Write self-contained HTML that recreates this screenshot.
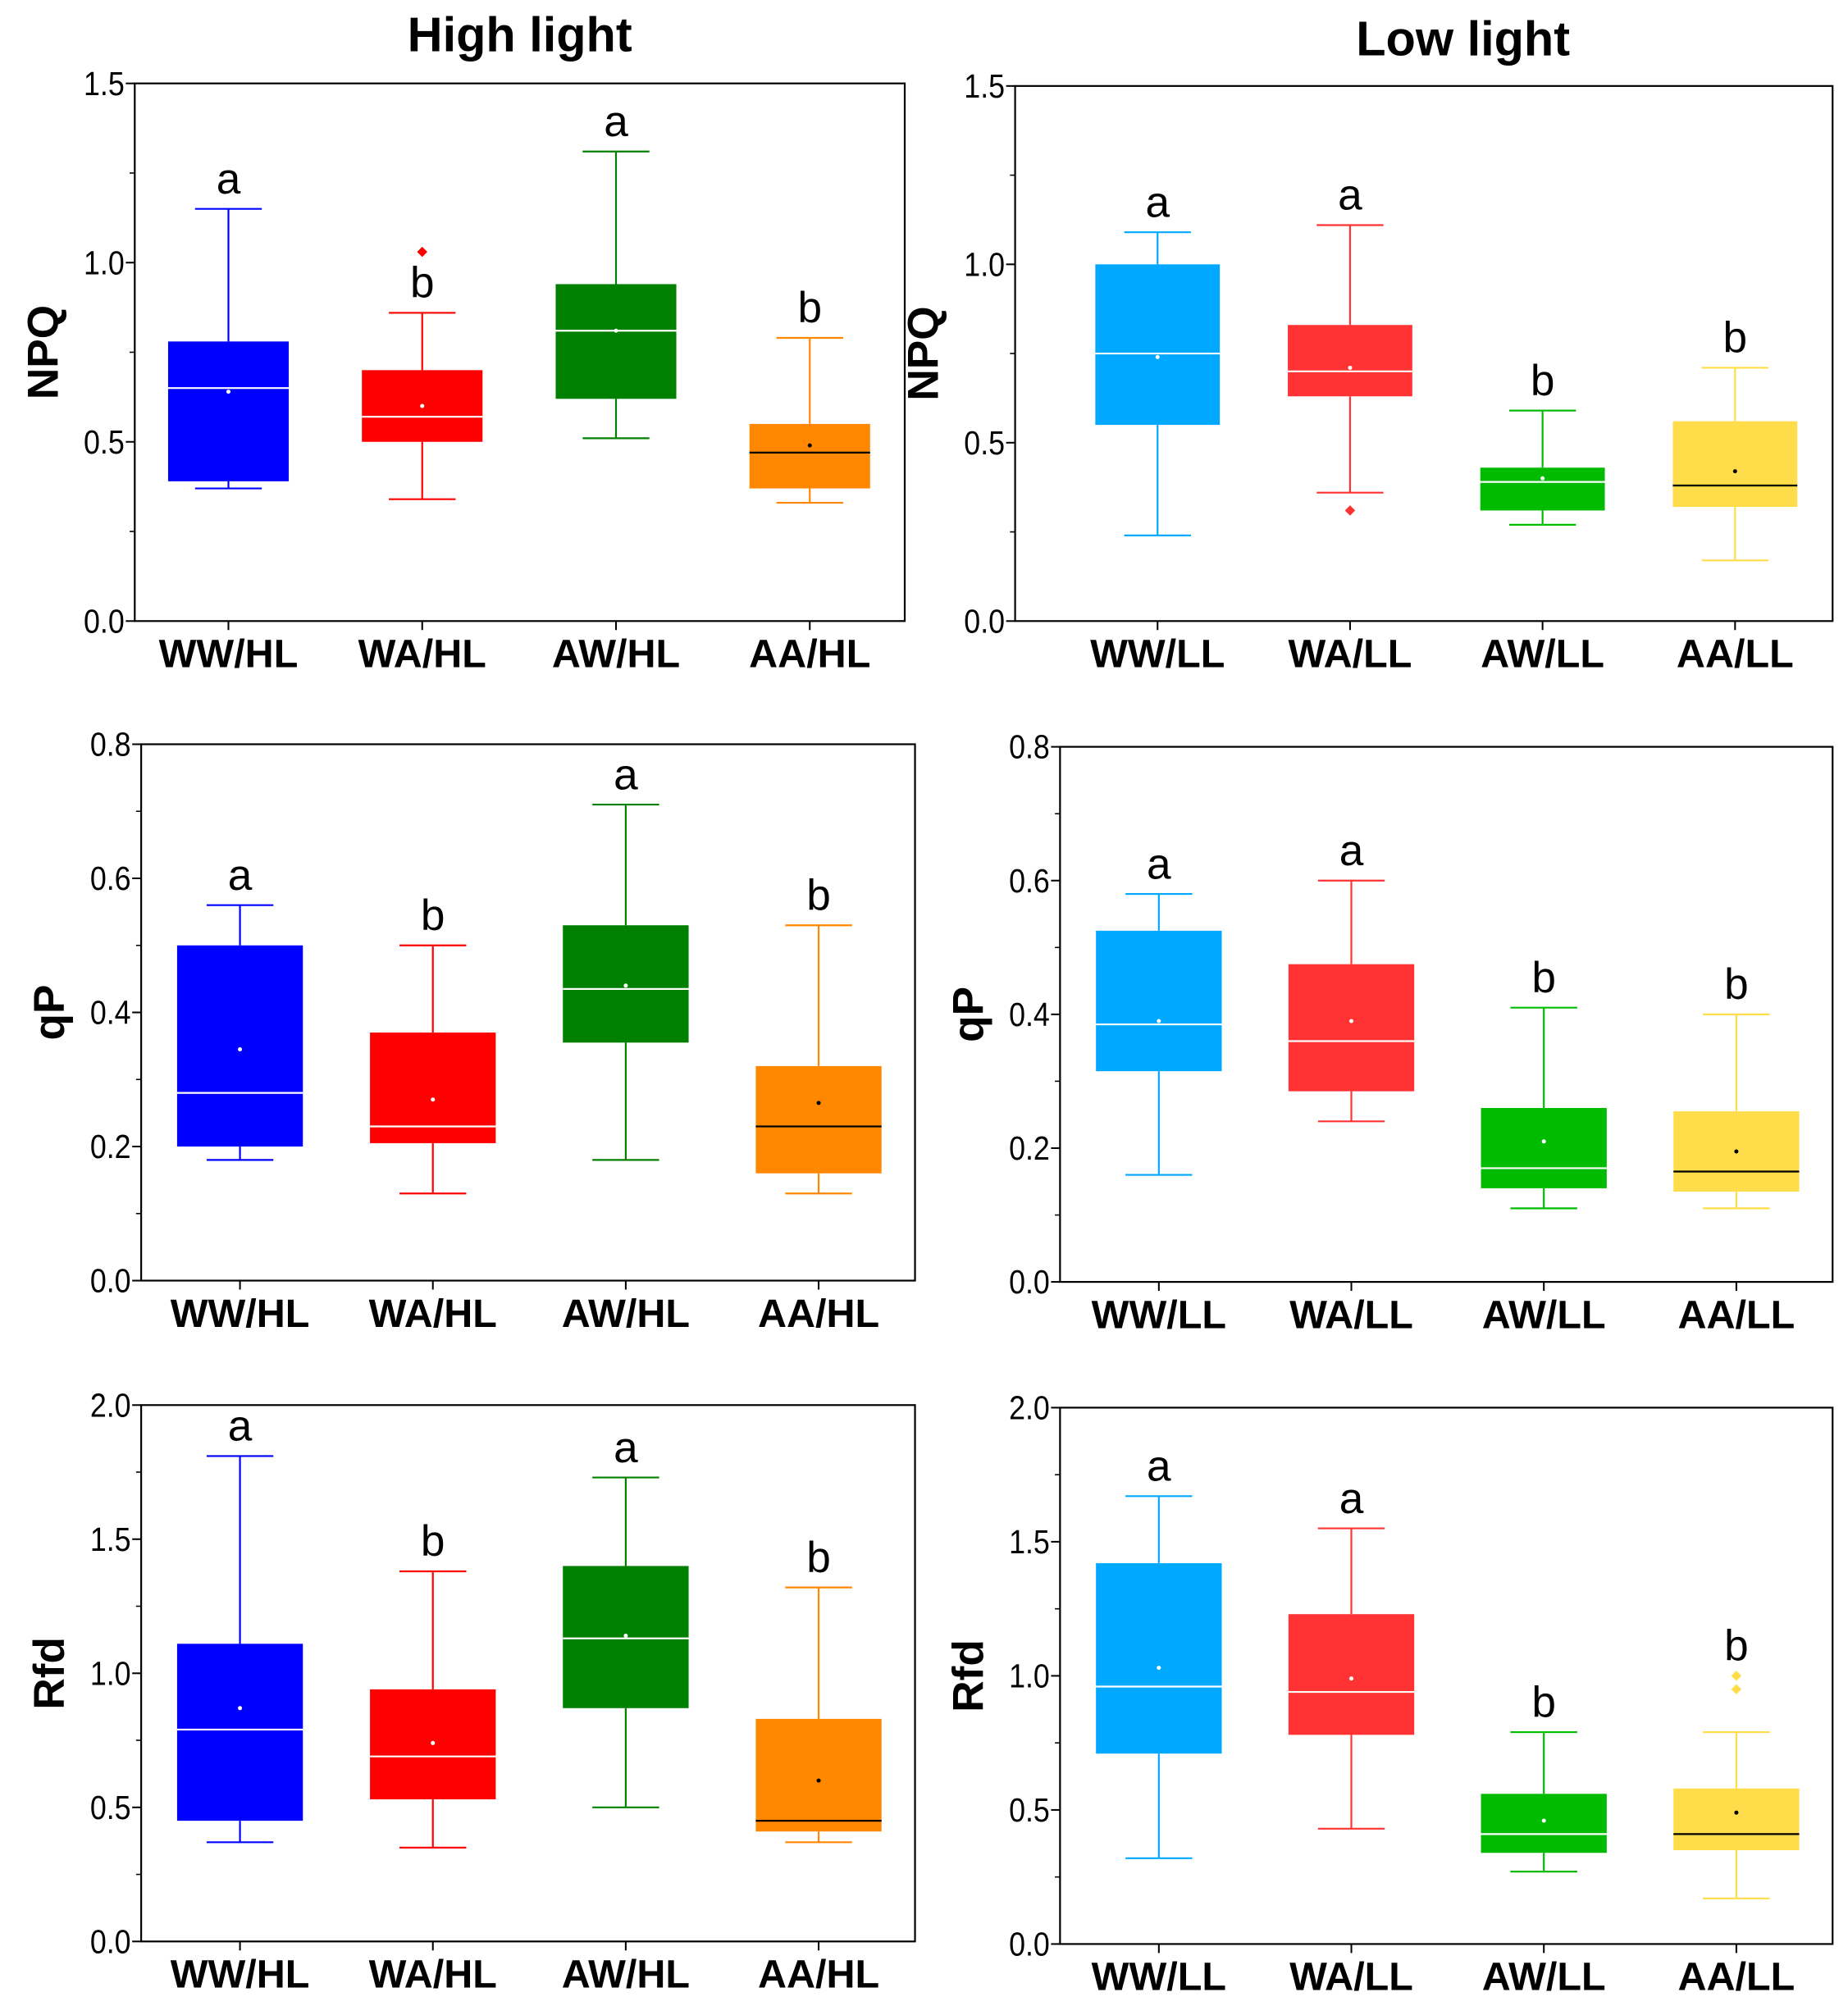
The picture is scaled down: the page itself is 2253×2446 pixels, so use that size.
<!DOCTYPE html>
<html><head><meta charset="utf-8"><style>
html,body{margin:0;padding:0;background:#fff;}
svg{display:block;}
text{font-family:"Liberation Sans",sans-serif;}
</style></head><body>
<svg id="fig" width="2253" height="2446" viewBox="0 0 1440 1563.3" preserveAspectRatio="none" xmlns="http://www.w3.org/2000/svg">
<text x="405" y="40" text-anchor="middle" font-size="38" font-weight="bold">High light</text>
<text x="1140" y="43" text-anchor="middle" font-size="38" font-weight="bold">Low light</text>
</svg>
<script>
// ---- data ----
const catsHL = ["WW/HL","WA/HL","AW/HL","AA/HL"];
const catsLL = ["WW/LL","WA/LL","AW/LL","AA/LL"];
// [whiskerLow, q1, median, q3, whiskerHigh]
const npqHL = [[0.37,0.39,0.65,0.78,1.15],[0.34,0.50,0.57,0.70,0.86],[0.51,0.62,0.81,0.94,1.31],[0.33,0.37,0.47,0.55,0.79]];
const npqHLMean = [0.64,0.60,0.81,0.49];
const npqHLOut = [[],[1.03],[],[]];
const npqHLLetters = ["a","b","a","b"];
const npqLL = [[0.24,0.55,0.75,1.00,1.09],[0.36,0.63,0.70,0.83,1.11],[0.27,0.31,0.39,0.43,0.59],[0.17,0.32,0.38,0.56,0.71]];
const npqLLMean = [0.74,0.71,0.40,0.42];
const npqLLOut = [[],[0.31],[],[]];
const npqLLLetters = ["a","a","b","b"];
const qpHL = [[0.18,0.20,0.28,0.50,0.56],[0.13,0.205,0.23,0.37,0.50],[0.18,0.355,0.435,0.53,0.71],[0.13,0.16,0.23,0.32,0.53]];
const qpHLMean = [0.345,0.27,0.44,0.265];
const qpHLLetters = ["a","b","a","b"];
const qpLL = [[0.16,0.315,0.385,0.525,0.58],[0.24,0.285,0.36,0.475,0.60],[0.11,0.14,0.17,0.26,0.41],[0.11,0.135,0.165,0.255,0.40]];
const qpLLMean = [0.39,0.39,0.21,0.195];
const qpLLLetters = ["a","a","b","b"];
const rfdHL = [[0.37,0.45,0.79,1.11,1.81],[0.35,0.53,0.69,0.94,1.38],[0.50,0.87,1.13,1.40,1.73],[0.37,0.41,0.45,0.83,1.32]];
const rfdHLMean = [0.87,0.74,1.14,0.60];
const rfdHLLetters = ["a","b","a","b"];
const rfdLL = [[0.32,0.71,0.96,1.42,1.67],[0.43,0.78,0.94,1.23,1.55],[0.27,0.34,0.41,0.56,0.79],[0.17,0.35,0.41,0.58,0.79]];
const rfdLLMean = [1.03,0.99,0.46,0.49];
const rfdLLOut = [[],[],[],[1.0,0.95]];
const rfdLLLetters = ["a","a","b","b"];
const npqTicks = [0,0.5,1.0,1.5];
const qpTicks = [0,0.2,0.4,0.6,0.8];
const rfdTicks = [0,0.5,1.0,1.5,2.0];
const colorsHL = ["#0000ff","#ff0000","#008000","#ff8800"];
const colorsLL = ["#00a8ff","#ff3333","#00bb00","#ffdd4a"];
const medColHL = ["#fff","#fff","#fff","#000"];
const medColLL = ["#fff","#fff","#fff","#000"];

const NS="http://www.w3.org/2000/svg";
const svg=document.getElementById('fig');
function mk(tag,attrs,parent){const e=document.createElementNS(NS,tag);for(const k in attrs)e.setAttribute(k,attrs[k]);(parent||svg).appendChild(e);return e;}

function panel(o){
  const g=mk('g',{});
  
  
  const ymax=o.ticks[o.ticks.length-1];
  const Y=v=>o.y1-(v/ymax)*(o.y1-o.y0);
  const X=i=>o.cx0+i*o.step;
  const minorStep=(o.ticks[1]-o.ticks[0])/2;
  for(let v=minorStep;v<ymax;v+=minorStep*2){
    mk('line',{x1:o.x0-4,x2:o.x0,y1:Y(v),y2:Y(v),stroke:'#000','stroke-width':1},g);
  }
  o.ticks.forEach(t=>{
    mk('line',{x1:o.x0-7,x2:o.x0,y1:Y(t),y2:Y(t),stroke:'#000','stroke-width':1.3},g);
    const tx=mk('text',{x:o.x0-8,y:Y(t)+9,'text-anchor':'end','font-size':26,transform:`translate(${(o.x0-8)*0.12},0) scale(0.88,1)`},g);
    tx.textContent=t.toFixed(1);
    
    
  });
  const yl=mk('text',{x:0,y:0,'font-size':34,'font-weight':'bold','text-anchor':'middle',transform:`translate(${o.x0-60},${(o.y0+o.y1)/2}) rotate(-90)`},g);
  yl.textContent=o.ylabel;
  
  
  o.cats.forEach((c,i)=>{
    const d=o.data[i],cx=X(i),hw=o.bw/2,cap=26;
    const bg=mk('g',{},g);
    
    
    const col=o.colors[i];
    mk('line',{x1:cx,x2:cx,y1:Y(d[0]),y2:Y(d[1]),stroke:col,'stroke-width':1.4},bg);
    mk('line',{x1:cx,x2:cx,y1:Y(d[3]),y2:Y(d[4]),stroke:col,'stroke-width':1.4},bg);
    mk('line',{x1:cx-cap,x2:cx+cap,y1:Y(d[0]),y2:Y(d[0]),stroke:col,'stroke-width':1.4},bg);
    mk('line',{x1:cx-cap,x2:cx+cap,y1:Y(d[4]),y2:Y(d[4]),stroke:col,'stroke-width':1.4},bg);
    mk('rect',{x:cx-hw,y:Y(d[3]),width:o.bw,height:Y(d[1])-Y(d[3]),fill:col},bg);
    mk('line',{x1:cx-hw,x2:cx+hw,y1:Y(d[2]),y2:Y(d[2]),stroke:o.medCol[i],'stroke-width':1.4},bg);
    mk('circle',{cx:cx,cy:Y(o.mean[i]),r:1.6,fill:o.medCol[i]==='#000'?'#000':'#fff'},bg);
    const outs=o.out?o.out[i]:[];
    outs.forEach(v=>{
      const p=mk('path',{d:`M${cx} ${Y(v)-4} L${cx+4} ${Y(v)} L${cx} ${Y(v)+4} L${cx-4} ${Y(v)} Z`,fill:col},bg);
      
      
    });
    let top=d[4];
    if(o.letterAboveOut && outs.length) top=Math.max(top,...outs);
    const lt=mk('text',{x:cx,y:Y(top)-12,'text-anchor':'middle','font-size':34},g);
    lt.textContent=o.letters[i];
    
    
    mk('line',{x1:cx,x2:cx,y1:o.y1,y2:o.y1+7,stroke:'#000','stroke-width':1.3},g);
    const xl=mk('text',{x:cx,y:o.y1+36,'text-anchor':'middle','font-size':31,'font-weight':'bold'},g);
    xl.textContent=c;
    
    
  });
  mk('rect',{x:o.x0,y:o.y0,width:o.x1-o.x0,height:o.y1-o.y0,fill:'none',stroke:'#000','stroke-width':1.4},g);
}
panel({name:'npq-high-light',x0:105,x1:705,y0:65,y1:484,cx0:178,step:151,bw:94,ticks:npqTicks,ylabel:'NPQ',cats:catsHL,data:npqHL,mean:npqHLMean,out:npqHLOut,letters:npqHLLetters,colors:colorsHL,medCol:medColHL});
panel({name:'npq-low-light',x0:791,x1:1428,y0:67,y1:484,cx0:902,step:150,bw:97,ticks:npqTicks,ylabel:'NPQ',cats:catsLL,data:npqLL,mean:npqLLMean,out:npqLLOut,letters:npqLLLetters,colors:colorsLL,medCol:medColLL});
panel({name:'qp-high-light',x0:110,x1:713,y0:580,y1:998,cx0:187,step:150.3,bw:98,ticks:qpTicks,ylabel:'qP',cats:catsHL,data:qpHL,mean:qpHLMean,letters:qpHLLetters,colors:colorsHL,medCol:medColHL});
panel({name:'qp-low-light',x0:826,x1:1428,y0:582,y1:999,cx0:903,step:150,bw:98,ticks:qpTicks,ylabel:'qP',cats:catsLL,data:qpLL,mean:qpLLMean,letters:qpLLLetters,colors:colorsLL,medCol:medColLL});
panel({name:'rfd-high-light',x0:110,x1:713,y0:1095,y1:1513,cx0:187,step:150.3,bw:98,ticks:rfdTicks,ylabel:'Rfd',cats:catsHL,data:rfdHL,mean:rfdHLMean,letters:rfdHLLetters,colors:colorsHL,medCol:medColHL});
panel({name:'rfd-low-light',x0:826,x1:1428,y0:1097,y1:1515,cx0:903,step:150,bw:98,ticks:rfdTicks,ylabel:'Rfd',cats:catsLL,data:rfdLL,mean:rfdLLMean,out:rfdLLOut,letters:rfdLLLetters,colors:colorsLL,medCol:medColLL,letterAboveOut:true});
</script>
</body></html>
